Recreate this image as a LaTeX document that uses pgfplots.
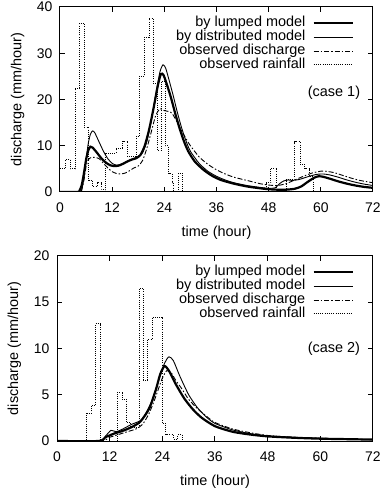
\documentclass[border=0pt]{standalone}
\usepackage{fontspec}
\setmainfont{Liberation Sans}
\usepackage{pgfplots}
\pgfplotsset{compat=1.18}
\pgfplotsset{
 gp/.style={
  scale only axis, height=185bp,
  xmin=0, xmax=72, xtick={0,12,...,72},
  tick align=inside, major tick length=5bp,
  font=\fontsize{14.5}{16}\selectfont,
  tick label style={font=\fontsize{14}{16}\selectfont},
  /pgf/number format/assume math mode=true,
  xticklabel shift=7bp, yticklabel shift=4bp,
  xlabel={time (hour)}, ylabel={discharge (mm/hour)},
  xlabel style={at={(axis description cs:0.5,-0.218)},anchor=center},
  ylabel style={at={(axis description cs:-0.135,0.5)},anchor=center},
  legend style={at={(axis description cs:0.949,0.962)},anchor=north east,
     draw=none, fill=none, font=\fontsize{14.5}{16}\selectfont,
     nodes={inner sep=0.3bp, text height=10.3bp, text depth=3bp}, row sep=0bp},
  legend cell align=right, legend plot pos=right,
  legend image code/.code={\path[draw=none,fill=none] (0bp,-2bp) rectangle (47bp,2bp);\draw[##1] (8bp,0bp) -- (47bp,0bp);},
  axis line style={line width=1bp},
  every tick/.style={black, line width=1bp},
 },
 lump/.style={black, line width=2.2bp, smooth, tension=0.4},
 dist/.style={black, line width=0.9bp, smooth, tension=0.4},
 obs/.style={black, line width=0.9bp, smooth, tension=0.4, dash pattern=on 5bp off 2bp on 1.5bp off 2bp},
 rain/.style={black, line width=0.8bp, const plot, dash pattern=on 1bp off 1.2bp},
}
\begin{document}
\begin{tikzpicture}
\useasboundingbox (0,0) rectangle (381bp,493bp);
% ---------------- case 1
\begin{axis}[gp, at={(60bp,301bp)}, anchor=south west, width=313bp,
  ymin=0, ymax=40, ytick={0,10,20,30,40}]
\addplot[lump] coordinates {(0,0)(4,0)(4.5,0.3)(5,1.5)(5.5,4)(6,7)(6.5,9)(7,9.8)(7.5,9.6)(8.5,8.5)(9.5,7.3)(10.5,6.4)(11.5,5.8)(12.5,5.6)(13.5,5.7)(14.5,6.1)(15.5,6.6)(16.5,7.0)(17.5,7.3)(18.5,8)(19.5,10)(20.5,13.5)(21.5,18)(22.5,23)(23.2,25.5)(23.8,25.3)(24.5,23.5)(25.5,20.5)(26.5,17)(27.5,13.8)(28.5,11)(29.5,8.8)(31,6.6)(33,4.8)(35,3.5)(37,2.6)(40,1.8)(43,1.2)(46,0.8)(48,0.6)(50,0.5)(52,0.5)(54,0.7)(55.5,1.2)(57,2.2)(58.5,3.1)(59.5,3.4)(60.5,3.3)(62,2.9)(64,2.3)(66,1.8)(68,1.4)(70,1.1)(72,0.9)};
\addlegendentry{by lumped model}
\addplot[dist] coordinates {(0,0)(4.5,0)(5,0.5)(5.5,3)(6,7)(6.5,10.5)(7,12.5)(7.5,13.2)(8,12.8)(9,10.8)(10,8.8)(11,7.2)(12,6.2)(13,5.8)(14,6.0)(15,6.4)(16,6.9)(17,7.3)(18,7.6)(19,8.5)(20,11)(21,15.5)(22,21)(23,26)(23.7,27.5)(24.3,26.8)(25,24.5)(26,21)(27,17.2)(28,13.8)(29,11)(30,8.8)(32,6.2)(34,4.5)(36,3.4)(38,2.6)(40,2.0)(43,1.4)(46,1.0)(48,0.8)(49.5,0.9)(50.5,1.8)(51.5,2.4)(52.5,2.6)(53.5,2.5)(55,2.7)(57,3.3)(59,3.8)(60.5,3.9)(62,3.7)(64,3.2)(66,2.6)(68,2.1)(70,1.7)(72,1.4)};
\addlegendentry{by distributed model}
\addplot[obs] coordinates {(0,0)(4.5,0)(5,0.5)(5.5,2.5)(6,5.5)(6.5,7)(7,7.4)(8,7.5)(9,7.2)(10,6.2)(11,5.2)(12,4.4)(13,4.0)(14,3.9)(15,4.1)(16,4.6)(17,5.2)(18,5.6)(19,6.8)(20,9.5)(21,13)(22,16.5)(23,18)(24,17.6)(25,17.4)(25.8,17)(27,15)(28,13.2)(29,11.5)(30,10)(32,7.6)(34,6)(36,4.8)(38,3.9)(40,3.2)(43,2.5)(46,1.8)(48,1.5)(50,1.4)(52,1.8)(54,2.6)(56,3.4)(58,4.1)(60,4.5)(61,4.5)(63,4.2)(65,3.6)(67,3)(69,2.5)(72,2)};
\addlegendentry{observed discharge}
\addplot[rain] coordinates {(0,5)(1.3,7)(2.4,5)(3.5,22.5)(4.5,36.5)(5.5,14)(6.6,2.5)(7.5,1.2)(8.5,2)(9.5,0.5)(10.5,8.4)(12.9,9.5)(14.4,11)(15.5,7.7)(17.5,12)(18.2,25)(19.5,33.5)(20.5,37.5)(21.5,23.5)(22.5,9)(23.3,24)(24.2,10)(25,4)(25.8,2)(26.2,0)(27.2,4)(28.2,0)(47.5,2)(48.5,5.2)(49.8,0.3)(52.1,2.7)(54,10.9)(55.2,6)(56.3,5)(57.4,3.4)(58.3,0)(72,0)};
\addlegendentry{observed rainfall}
\node[anchor=east] at (rel axis cs:0.97,0.535) {(case 1)};
\end{axis}
% ---------------- case 2
\begin{axis}[gp, at={(57bp,52bp)}, anchor=south west, width=316bp,
  ymin=0, ymax=20, ytick={0,5,10,15,20}]
\addplot[lump] coordinates {(0,0)(9.5,0)(11,0.4)(13,0.8)(15,1.1)(17,1.5)(19,2.1)(21,3.5)(22.5,5.5)(23.5,7.2)(24.5,8.1)(25.5,7.6)(27,6.2)(29,4.6)(31,3.4)(33,2.5)(36,1.6)(40,1.0)(44,0.7)(48,0.5)(54,0.35)(60,0.25)(66,0.2)(72,0.15)};
\addlegendentry{by lumped model}
\addplot[dist] coordinates {(0,0)(9.8,0)(11,0.5)(12.3,1.15)(13.5,1.0)(15,1.3)(17,1.8)(19,2.2)(20,2.8)(21.5,4.2)(23,6.3)(24.5,8.4)(25.5,9.1)(26.5,8.7)(28,7)(30,5)(32,3.6)(34,2.6)(36,1.9)(40,1.2)(44,0.8)(48,0.55)(54,0.4)(60,0.3)(66,0.2)(72,0.15)};
\addlegendentry{by distributed model}
\addplot[obs] coordinates {(0,0)(10,0)(12,0.4)(14,0.7)(16,1.0)(18,1.3)(19.5,1.8)(21,3)(22.5,4.8)(24,6.8)(25,7.6)(26,7.4)(27,6.6)(28.5,5.6)(30,4.5)(32,3.5)(34,2.7)(36,2.0)(40,1.3)(44,0.9)(48,0.6)(54,0.4)(60,0.3)(66,0.2)(72,0.15)};
\addlegendentry{observed discharge}
\addplot[rain] coordinates {(0,0)(6.8,3)(7.8,3.8)(8.8,12.7)(10,0)(13.7,5.2)(14.8,4.5)(15.8,2)(16.8,1.5)(18.7,16.5)(19.7,6.6)(20.7,11)(21.7,13.4)(24,1.9)(24.8,0.7)(26.5,0.2)(27.5,0.7)(28.5,0)(72,0)};
\addlegendentry{observed rainfall}
\node[anchor=east] at (rel axis cs:0.97,0.50) {(case 2)};
\end{axis}
\end{tikzpicture}
\end{document}
